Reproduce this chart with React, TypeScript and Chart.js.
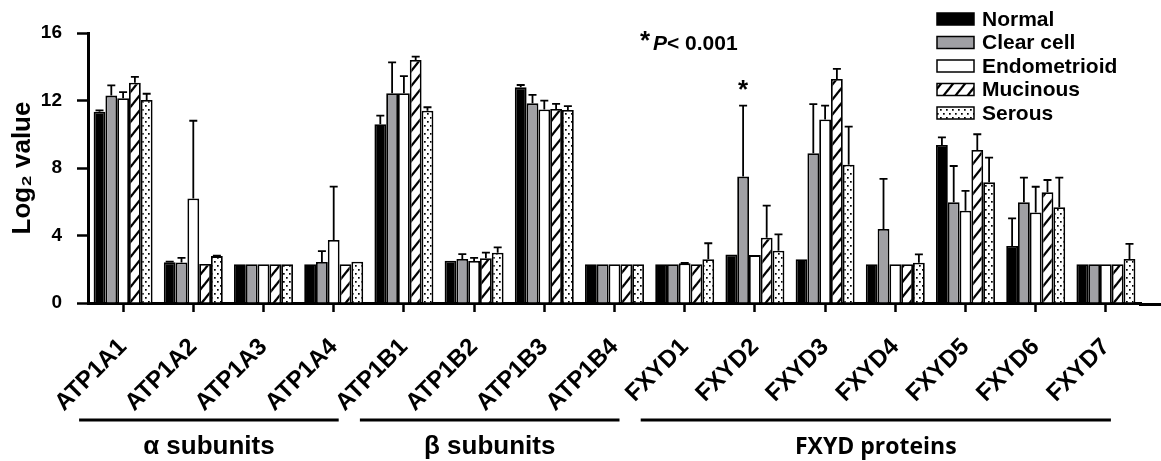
import React, { useEffect, useRef } from 'react';
import { Chart, registerables } from 'chart.js';
Chart.register(...registerables);

const categories = ['ATP1A1', 'ATP1A2', 'ATP1A3', 'ATP1A4', 'ATP1B1', 'ATP1B2', 'ATP1B3', 'ATP1B4', 'FXYD1', 'FXYD2', 'FXYD3', 'FXYD4', 'FXYD5', 'FXYD6', 'FXYD7'];
const seriesNames = ['Normal', 'Clear cell', 'Endometrioid', 'Mucinous', 'Serous'];

const normal = [11.34, 2.41, 2.3, 2.3, 10.6, 2.51, 12.78, 2.3, 2.3, 2.88, 2.59, 2.3, 9.36, 3.38, 2.3];
const normalErr = [0.08, 0.04, 0, 0, 0.5, 0, 0.14, 0, 0, 0, 0, 0, 0.46, 1.64, 0];
const clearCell = [12.29, 2.4, 2.3, 2.43, 12.43, 2.61, 11.83, 2.3, 2.3, 7.49, 8.87, 4.39, 5.97, 5.97, 2.3];
const clearCellErr = [0.61, 0.28, 0, 0.65, 1.83, 0.29, 0.5, 0, 0, 4.21, 2.92, 2.96, 2.15, 1.46, 0];
const endometrioid = [12.13, 6.2, 2.3, 3.73, 12.43, 2.49, 11.47, 2.3, 2.35, 2.84, 10.88, 2.3, 5.47, 5.37, 2.3];
const endometrioidErr = [0.37, 4.6, 0, 3.17, 1.02, 0.19, 0.52, 0, 0.02, 0, 0.82, 0, 1.17, 1.52, 0];
const mucinous = [13.05, 2.31, 2.3, 2.3, 14.4, 2.65, 11.5, 2.3, 2.3, 3.87, 13.27, 2.3, 9.07, 6.56, 2.3];
const mucinousErr = [0.35, 0, 0, 0, 0.2, 0.33, 0.3, 0, 0, 1.9, 0.6, 0, 0.93, 0.73, 0];
const serous = [12.03, 2.78, 2.3, 2.45, 11.4, 2.98, 11.44, 2.3, 2.59, 3.1, 8.2, 2.39, 7.15, 5.67, 2.61];
const serousErr = [0.37, 0.02, 0, 0, 0.2, 0.32, 0.23, 0, 0.95, 0.97, 2.25, 0.49, 1.46, 1.76, 0.89];

const groupNames = ['α subunits', 'β subunits', 'FXYD proteins'];
const groupFirst = [0, 4, 8];
const groupLast = [3, 7, 14];

const yMin = 0;
const yMax = 16;
const yStep = 4;

const pValueNote = 'P< 0.001';
const significantSeries = 1;
const significantCategory = 9;

const ARIAL = '"Liberation Sans", Arial, sans-serif';
const CALIBRI = '"Open Sans", Lato, sans-serif';

function makeHatch(): CanvasPattern | string {
  const w = 12, h = 15;
  const c = document.createElement('canvas');
  c.width = w; c.height = h;
  const g = c.getContext('2d');
  if (!g) return '#fff';
  g.fillStyle = '#fff';
  g.fillRect(0, 0, w, h);
  g.strokeStyle = '#000';
  g.lineWidth = 2.3;
  for (const k of [-1, 0, 1]) {
    g.beginPath();
    g.moveTo(-w, (k + 2) * h);
    g.lineTo(2 * w, (k - 1) * h);
    g.stroke();
  }
  return g.createPattern(c, 'repeat') || '#fff';
}

function makeDots(): CanvasPattern | string {
  const w = 6, h = 8;
  const c = document.createElement('canvas');
  c.width = w; c.height = h;
  const g = c.getContext('2d');
  if (!g) return '#fff';
  g.fillStyle = '#fff';
  g.fillRect(0, 0, w, h);
  g.fillStyle = '#000';
  g.fillRect(1, 1, 1.7, 1.7);
  g.fillRect(4, 5, 1.7, 1.7);
  return g.createPattern(c, 'repeat') || '#fff';
}

export default function App() {
  const ref = useRef<HTMLCanvasElement>(null);

  useEffect(() => {
    document.body.style.margin = '0';
    const canvas = ref.current;
    if (!canvas) return;
    const hatch = makeHatch();
    const dots = makeDots();
    const values = [normal, clearCell, endometrioid, mucinous, serous];
    const errors = [normalErr, clearCellErr, endometrioidErr, mucinousErr, serousErr];
    const fills: any[] = ['#000000', '#a0a0a4', '#ffffff', hatch, dots];

    const overlay = {
      id: 'overlay',
      afterDatasetsDraw(chart: any) {
        const ctx = chart.ctx as CanvasRenderingContext2D;
        const ys = chart.scales.y;
        ctx.save();
        ctx.strokeStyle = '#000';
        ctx.lineWidth = 1.8;
        chart.data.datasets.forEach((ds: any, di: number) => {
          const meta = chart.getDatasetMeta(di);
          const errs = errors[di];
          meta.data.forEach((el: any, j: number) => {
            const e = errs[j];
            if (!e) return;
            const top = ys.getPixelForValue(ds.data[j] + e);
            ctx.beginPath();
            ctx.moveTo(el.x, el.y);
            ctx.lineTo(el.x, top);
            ctx.moveTo(el.x - 4, top);
            ctx.lineTo(el.x + 4, top);
            ctx.stroke();
          });
        });
        ctx.restore();
      },
      afterDraw(chart: any) {
        const ctx = chart.ctx as CanvasRenderingContext2D;
        const xs = chart.scales.x;
        const ys = chart.scales.y;
        const area = chart.chartArea;
        ctx.save();
        // extend x axis line to the right edge
        ctx.strokeStyle = '#000';
        ctx.lineWidth = 3;
        ctx.beginPath();
        ctx.moveTo(area.right - 2, area.bottom + 1.5);
        ctx.lineTo(1161, area.bottom + 1.5);
        ctx.stroke();

        // legend
        ctx.textBaseline = 'middle';
        ctx.textAlign = 'left';
        ctx.font = `bold 21px ${ARIAL}`;
        seriesNames.forEach((name, i) => {
          const yc = 19 + i * 23.5;
          ctx.fillStyle = fills[i];
          ctx.fillRect(937, yc - 6, 37, 12);
          ctx.lineWidth = 1.5;
          ctx.strokeStyle = '#000';
          ctx.strokeRect(937, yc - 6, 37, 12);
          ctx.fillStyle = '#000';
          ctx.fillText(name, 982, yc + 1);
        });

        // p-value note
        ctx.fillStyle = '#000';
        ctx.font = `bold 26px ${ARIAL}`;
        ctx.fillText('*', 640, 42);
        ctx.font = `italic bold 21px ${ARIAL}`;
        ctx.fillText(pValueNote.slice(0, 1), 653, 44);
        const pw = ctx.measureText(pValueNote.slice(0, 1)).width;
        ctx.font = `bold 21px ${ARIAL}`;
        ctx.fillText(pValueNote.slice(1), 653 + pw, 44);

        // significance asterisk
        const el = chart.getDatasetMeta(significantSeries).data[significantCategory];
        const v = values[significantSeries][significantCategory] + errors[significantSeries][significantCategory];
        ctx.textAlign = 'center';
        ctx.font = `bold 26px ${ARIAL}`;
        ctx.fillText('*', el.x, ys.getPixelForValue(v) - 15);

        // group brackets
        groupNames.forEach((name, gi) => {
          const x1 = xs.getPixelForValue(groupFirst[gi]) - 44;
          const x2 = xs.getPixelForValue(groupLast[gi]) + 5;
          ctx.lineWidth = 3;
          ctx.beginPath();
          ctx.moveTo(x1, 420);
          ctx.lineTo(x2, 420);
          ctx.stroke();
          ctx.font = gi === 2 ? `bold 23px ${CALIBRI}` : `bold 26px ${ARIAL}`;
          ctx.textAlign = 'center';
          ctx.fillText(name, (x1 + x2) / 2, 447);
        });
        ctx.restore();
      },
    };

    const chart = new Chart(canvas, {
      type: 'bar',
      data: {
        labels: categories,
        datasets: seriesNames.map((name, i) => ({
          label: name,
          data: values[i],
          backgroundColor: fills[i],
          borderColor: '#000',
          borderWidth: 1.8,
          categoryPercentage: 0.84,
          barPercentage: 1.0,
        })),
      },
      options: {
        animation: false,
        responsive: false,
        devicePixelRatio: 1,
        layout: { padding: { top: 33, right: 20, left: 0, bottom: 0 } },
        plugins: {
          legend: { display: false },
          tooltip: { enabled: false },
        },
        scales: {
          x: {
            type: 'category',
            offset: true,
            grid: { display: true, offset: false, drawOnChartArea: false, drawTicks: true, tickLength: 9, tickColor: '#000', tickWidth: 2.5 },
            border: { display: true, color: '#000', width: 3 },
            ticks: {
              color: '#000',
              font: { family: ARIAL, size: 24, weight: 'bold' },
              minRotation: 45,
              maxRotation: 45,
              padding: 21,
              autoSkip: false,
            },
            afterFit: (s: any) => { s.height = 158; },
          },
          y: {
            min: yMin,
            max: yMax,
            grid: { display: true, drawOnChartArea: false, drawTicks: true, tickLength: 11, tickColor: '#000', tickWidth: 2.5 },
            border: { display: true, color: '#000', width: 3 },
            ticks: {
              stepSize: yStep,
              color: '#000',
              font: { family: ARIAL, size: 19, weight: 'bold' },
              padding: 15,
            },
            title: {
              display: true,
              text: 'Log₂ value',
              color: '#000',
              font: { family: ARIAL, size: 26, weight: 'bold' },
              padding: { top: 7, bottom: 0 },
            },
            afterFit: (s: any) => { s.width = 88; },
          },
        },
      } as any,
      plugins: [overlay],
    });
    return () => chart.destroy();
  }, []);

  return (
    <div style={{ width: 1161, height: 461, position: 'relative' }}>
      <canvas ref={ref} width={1161} height={461} style={{ display: 'block', width: 1161, height: 461 }} />
    </div>
  );
}
